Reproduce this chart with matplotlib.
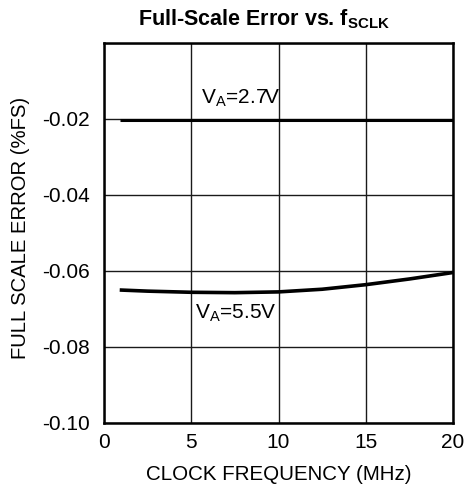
import matplotlib
matplotlib.use("Agg")
import matplotlib.pyplot as plt
import numpy as np

plt.rcParams['font.family'] = ['Liberation Sans', 'DejaVu Sans']
plt.rcParams['mathtext.fontset'] = 'custom'
plt.rcParams['mathtext.rm'] = 'Liberation Sans'
plt.rcParams['mathtext.it'] = 'Liberation Sans'
plt.rcParams['mathtext.bf'] = 'Liberation Sans:bold'

# Full-scale error vs. clock frequency
freq_mhz = [0.9, 2.5, 5, 7.5, 10, 12.5, 15, 17.5, 20]
err_27v = [-0.0202, -0.0202, -0.0202, -0.0202, -0.0202, -0.0202, -0.0202, -0.0202, -0.0202]
err_55v = [-0.0650, -0.0653, -0.0656, -0.0657, -0.0655, -0.0648, -0.0636, -0.0621, -0.0604]

x_ticks = [0, 5, 10, 15, 20]
y_ticks = [-0.10, -0.08, -0.06, -0.04, -0.02, 0.0]
y_tick_labels = ['-0.10', '-0.08', '-0.06', '-0.04', '-0.02', '']

W, H = 466, 484
fig = plt.figure(figsize=(W / 100, H / 100), dpi=100)
ax = fig.add_axes([104 / W, 61 / H, 349 / W, 380 / H])

ax.plot(freq_mhz, err_27v, color='black', lw=2.2, solid_capstyle='butt')
ax.plot(freq_mhz, err_55v, color='black', lw=2.6, solid_capstyle='butt')

ax.set_xlim(0, 20)
ax.set_ylim(-0.10, 0.0)
ax.set_xticks(x_ticks)
ax.set_yticks(y_ticks)
ax.set_yticklabels(y_tick_labels)
ax.grid(True, color='#1a1a1a', lw=1.0)
ax.tick_params(length=0, labelsize=15, colors='black')
ax.tick_params(axis='y', pad=10)
ax.tick_params(axis='x', pad=7)
for s in ax.spines.values():
    s.set_linewidth(1.8)

ax.text(5.55, -0.0146, r'$\mathregular{V_A}$=2.7V', fontsize=15, va='center', ha='left')
ax.text(5.2, -0.0712, r'$\mathregular{V_A}$=5.5V', fontsize=15, va='center', ha='left')

fig.text(279 / W, 4 / H, 'CLOCK FREQUENCY (MHz)', fontsize=14.8,
         ha='center', va='baseline')
fig.text(21 / W, (H - 227.5) / H, 'FULL SCALE ERROR (%FS)', fontsize=14.6,
         ha='center', va='center', rotation=90)
fig.text(264 / W, (H - 25) / H, r'Full-Scale Error vs. $\mathbf{f_{SCLK}}$',
         fontsize=15.5, fontweight='bold', ha='center', va='baseline')

fig.savefig('out.png', dpi=100)
